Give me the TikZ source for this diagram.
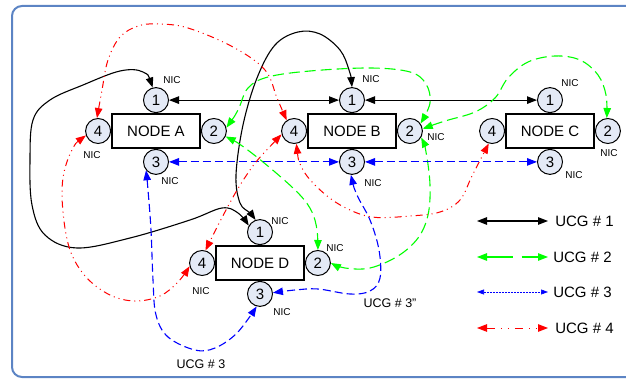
\documentclass[tikz,border=0pt]{standalone}
\usepackage{fontspec}
\setmainfont{Liberation Sans}
\usetikzlibrary{positioning, arrows.meta}
\definecolor{nicfill}{RGB}{228,234,246}
\definecolor{framecol}{RGB}{92,132,196}

\tikzset{
  nodebox/.style={draw, line width=1.8pt, minimum width=88pt, minimum height=34pt,
    inner sep=0pt, font=\fontsize{15}{15}\selectfont},
  nic/.style={circle, draw, line width=1pt, fill=nicfill, minimum size=25pt,
    inner sep=0pt, font=\fontsize{15}{15}\selectfont},
  niclabel/.style={inner sep=0pt, font=\fontsize{10}{10}\selectfont},
  ucglabel/.style={inner sep=0pt, font=\fontsize{15}{15}\selectfont},
  ucgnote/.style={inner sep=0pt, font=\fontsize{12.5}{12.5}\selectfont},
  ucgone/.style={<->, black, line width=1.1pt},
  ucgtwo/.style={<->, green, line width=1.1pt, dash pattern=on 11pt off 5pt},
  ucgthree/.style={<->, blue, line width=1.1pt, dash pattern=on 8pt off 4pt},
  ucgfour/.style={<->, red, line width=1pt,
    dash pattern=on 7pt off 4pt on 1pt off 4pt on 1pt off 4pt},
}

\begin{document}
\begin{tikzpicture}[x=1pt, y=-1pt, >={Triangle[length=10pt,width=7.5pt]}, semithick]
  \useasboundingbox (0,0) rectangle (626,379);
  \draw[framecol, line width=2pt, rounded corners=10pt] (12,6) rectangle (660,377);

  % the four nodes with their NICs
  \node[nodebox] (nodea) at (156,131) {NODE A};
  \node[nic, above=0pt of nodea] (a1) {1};
  \node[nic, right=0pt of nodea] (a2) {2};
  \node[nic, below=0pt of nodea] (a3) {3};
  \node[nic, left=0pt of nodea] (a4) {4};

  \node[nodebox] (nodeb) at (352,131) {NODE B};
  \node[nic, above=0pt of nodeb] (b1) {1};
  \node[nic, right=0pt of nodeb] (b2) {2};
  \node[nic, below=0pt of nodeb] (b3) {3};
  \node[nic, left=0pt of nodeb] (b4) {4};

  \node[nodebox] (nodec) at (550,131) {NODE C};
  \node[nic, above=0pt of nodec] (c1) {1};
  \node[nic, right=0pt of nodec] (c2) {2};
  \node[nic, below=0pt of nodec] (c3) {3};
  \node[nic, left=0pt of nodec] (c4) {4};

  \node[nodebox] (noded) at (260,263) {NODE D};
  \node[nic, above=0pt of noded] (d1) {1};
  \node[nic, right=0pt of noded] (d2) {2};
  \node[nic, below=0pt of noded] (d3) {3};
  \node[nic, left=0pt of noded] (d4) {4};

  % NIC captions
  \node[niclabel] (a1nic) at (172,80) {NIC};
  \node[niclabel] (a3nic) at (170,181) {NIC};
  \node[niclabel] (a4nic) at (92,155) {NIC};
  \node[niclabel] (b1nic) at (371,79) {NIC};
  \node[niclabel] (b2nic) at (436,137) {NIC};
  \node[niclabel] (b3nic) at (373,183) {NIC};
  \node[niclabel] (c1nic) at (570,83) {NIC};
  \node[niclabel] (c2nic) at (609,153) {NIC};
  \node[niclabel] (c3nic) at (574,175) {NIC};
  \node[niclabel] (d1nic) at (280,221) {NIC};
  \node[niclabel] (d2nic) at (335,248) {NIC};
  \node[niclabel] (d3nic) at (282,312) {NIC};
  \node[niclabel] (d4nic) at (201,291) {NIC};

  % UCG # 1
  \draw[ucgone] (a1) -- (b1);
  \draw[ucgone] (b1) -- (c1);
  \draw[ucgone] plot[smooth, tension=0.6] coordinates {(a1.105) (143,72) (120,71) (83,85)
    (50,100) (33,120) (30,160) (32,205) (45,235) (77,248) (130,238) (190,220) (222,208)
    (238,213) (d1.150)};
  \draw[ucgone] plot[smooth, tension=0.6] coordinates {(b1.north) (349,70) (340,50) (320,34)
    (298,32) (275,45) (257,78) (243,125) (236,175) (240,203) (250,213) (d1.110)};

  % UCG # 2
  \draw[ucgtwo] plot[smooth, tension=0.6] coordinates {(a2.15) (238,110) (248,88) (268,77)
    (310,71) (370,68) (410,72) (426,84) (430,103) (b2.35)};
  \draw[ucgtwo] plot[smooth, tension=0.6] coordinates {(b2.10) (445,121) (475,112) (495,98)
    (508,78) (528,62) (555,56) (580,60) (598,75) (606,95) (c2.95)};
  \draw[ucgtwo] plot[smooth, tension=0.6] coordinates {(a2.-25) (245,148) (275,172)
    (300,195) (312,212) (317,230) (d2.north)};
  \draw[ucgtwo] plot[smooth, tension=0.6] coordinates {(b2.-30) (426,152) (430,185)
    (428,215) (418,238) (398,256) (370,268) (345,268) (d2.east)};

  % UCG # 3
  \draw[ucgthree] (a3) -- (b3);
  \draw[ucgthree] (b3) -- (c3);
  \draw[ucgthree] plot[smooth, tension=0.6] coordinates {(a3.-140) (148,190) (151,230)
    (153,280) (156,315) (168,337) (195,350) (215,348) (237,333) (d3.-105)};
  \draw[ucgthree] plot[smooth, tension=0.6] coordinates {(b3.-95) (357,195) (370,220)
    (379,250) (380,278) (370,291) (350,294) (318,289) (295,290) (d3.5)};

  % UCG # 4
  \draw[ucgfour] plot[smooth, tension=0.6] coordinates {(a4.95) (102,90) (108,60) (120,37)
    (138,26) (158,24) (188,28) (233,47) (265,70) (277,98) (b4.125)};
  \draw[ucgfour] plot[smooth, tension=0.6] coordinates {(a4.-160) (72,150) (63,178)
    (63,212) (70,250) (86,277) (110,295) (135,301) (160,296) (178,282) (d4.-165)};
  \draw[ucgfour] plot[smooth, tension=0.6] coordinates {(b4.-165) (242,182) (d4.75)};
  \draw[ucgfour] plot[smooth, tension=0.6] coordinates {(b4.-80) (302,168) (318,188)
    (342,206) (372,217) (410,216) (440,212) (460,200) (472,176) (c4.-105)};

  \node[ucgnote] (note3a) at (390,303) {UCG \# 3"};
  \node[ucgnote] (note3b) at (201,364) {UCG \# 3};

  % legend
  \coordinate (leg1a) at (477,221); \coordinate (leg1b) at (548,221);
  \coordinate (leg2a) at (477,257); \coordinate (leg2b) at (548,257);
  \coordinate (leg3a) at (477,292); \coordinate (leg3b) at (548,292);
  \coordinate (leg4a) at (477,328); \coordinate (leg4b) at (548,328);
  \draw[ucgone] (leg1a) -- (leg1b);
  \draw[ucgtwo, dash pattern=on 26pt off 9pt] (leg2a) -- (leg2b);
  \draw[ucgthree, line width=0.6pt, dash pattern=on 2pt off 1pt,
    {Triangle[length=7pt,width=5pt]}-{Triangle[length=7pt,width=5pt]}] (leg3a) -- (leg3b);
  \draw[ucgfour, dash pattern=on 8pt off 6pt on 1pt off 6pt on 1pt off 6pt] (leg4a) -- (leg4b);
  \node[ucglabel, anchor=west] (leg1) at (555,221) {UCG \# 1};
  \node[ucglabel, anchor=west] (leg2) at (553,257) {UCG \# 2};
  \node[ucglabel, anchor=west] (leg3) at (553,292) {UCG \# 3};
  \node[ucglabel, anchor=west] (leg4) at (555,328) {UCG \# 4};
\end{tikzpicture}
\end{document}
